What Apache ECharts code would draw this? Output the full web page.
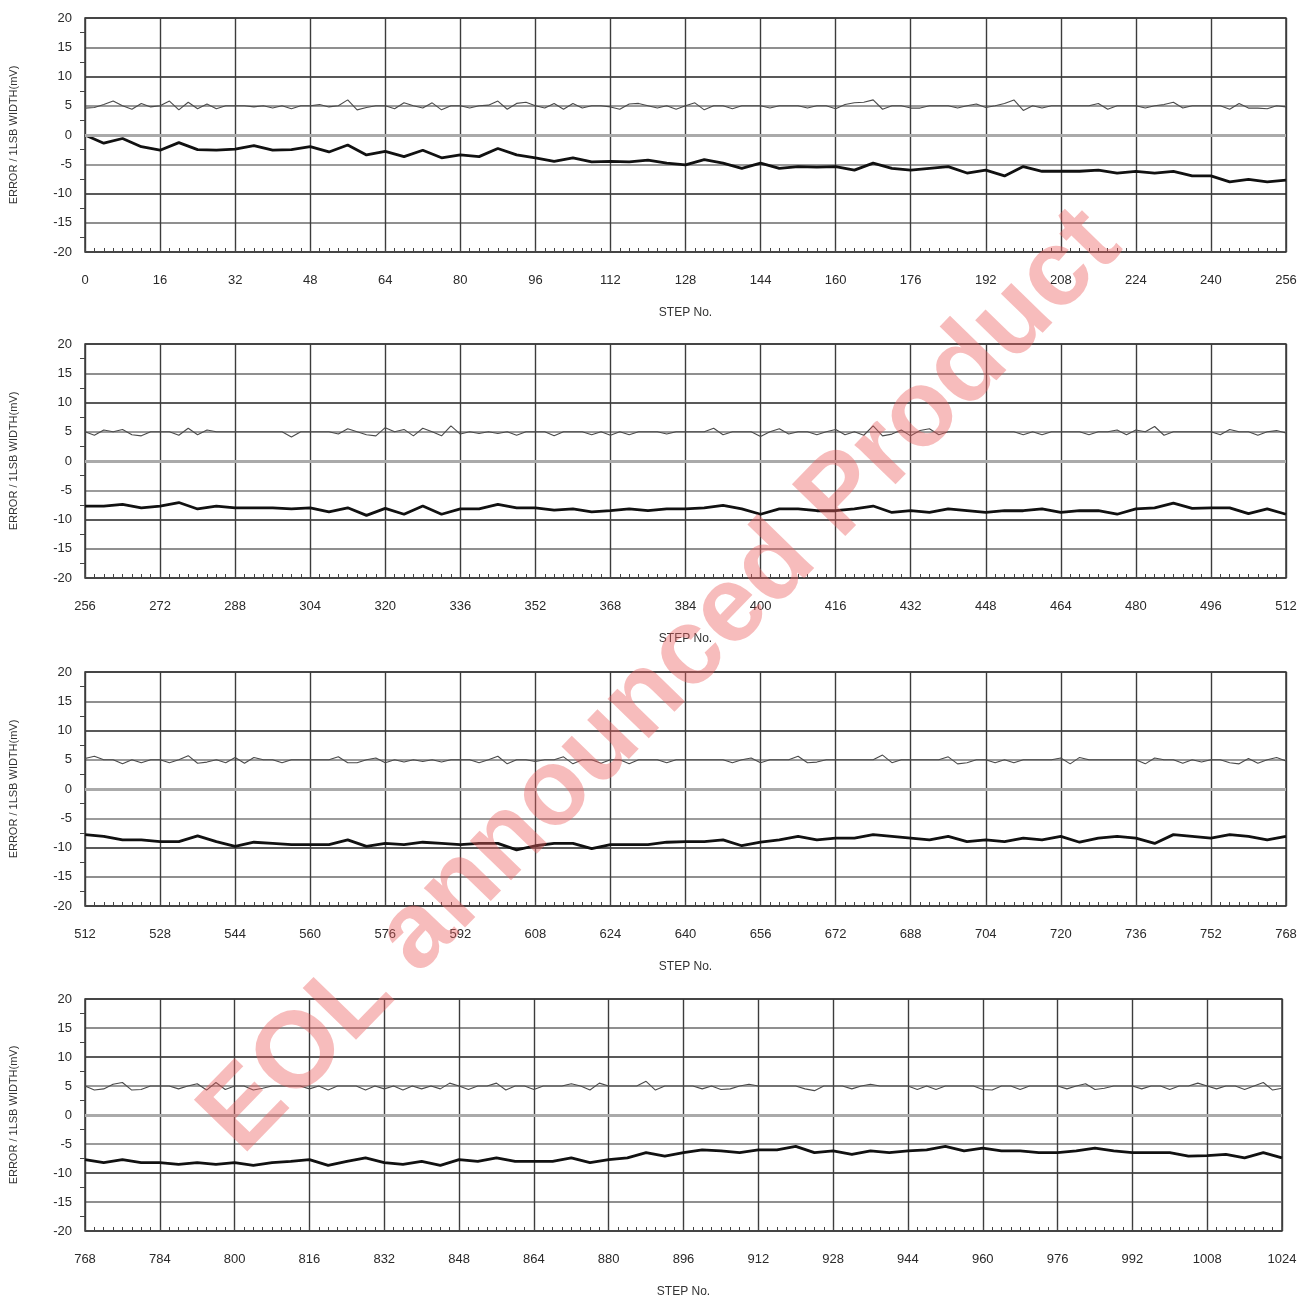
<!DOCTYPE html>
<html>
<head>
<meta charset="utf-8">
<title>Error / 1LSB width vs step</title>
<script src="https://cdn.jsdelivr.net/npm/echarts@6/dist/echarts.min.js"></script>
<style>
  html, body { margin: 0; padding: 0; background: #fff; }
  #chart { width: 1303px; height: 1299px; }
</style>
</head>
<body>
<div id="chart"></div>
<script>
// panel x ranges (STEP No.)
var panelStarts = [0, 256, 512, 768];
var panelSpan = 256;

// thin trace (around +5), read every 2 steps
var thinStep = 2;
var thin1 = [
  4.6,4.7,5.2,5.8,5.0,4.4,5.4,4.8,5.0,5.8,4.3,5.6,4.5,5.3,4.5,5.0,
  5.0,5.0,4.8,5.0,4.6,5.0,4.5,5.0,5.0,5.2,4.8,5.0,6.0,4.3,4.7,5.0,
  5.0,4.5,5.5,5.0,4.6,5.5,4.3,5.0,5.0,4.6,5.0,5.1,5.8,4.4,5.4,5.6,
  5.0,4.6,5.4,4.4,5.4,4.6,5.0,5.0,4.8,4.4,5.3,5.4,5.0,4.6,5.0,4.4,
  5.0,5.5,4.3,5.0,5.0,4.5,5.0,5.0,5.0,4.6,5.0,5.0,5.0,4.6,5.0,5.0,
  4.5,5.2,5.5,5.6,6.0,4.4,5.0,5.0,4.6,4.6,5.0,5.0,5.0,4.6,5.0,5.3,
  4.7,5.0,5.4,6.0,4.2,5.0,4.6,5.0,5.0,5.0,5.0,5.0,5.4,4.4,5.0,5.0,
  5.0,4.6,5.0,5.2,5.6,4.6,5.0,5.0,5.0,5.0,4.4,5.4,4.6,4.6,4.5,5.0,
  4.8
];
var thin2 = [
  5.0,4.4,5.3,5.0,5.4,4.5,4.3,5.0,5.0,5.0,4.4,5.6,4.5,5.3,5.0,5.0,
  5.0,5.0,5.0,5.0,5.0,5.0,4.1,5.0,5.0,5.0,5.0,4.6,5.5,5.0,4.5,4.3,
  5.7,5.0,5.4,4.3,5.6,5.0,4.3,6.0,4.6,5.0,4.7,5.0,4.7,5.0,4.4,5.0,
  5.0,5.0,4.3,5.0,5.0,5.0,4.5,5.0,4.4,5.0,4.5,5.0,5.0,5.0,4.6,5.0,
  5.0,5.0,5.0,5.6,4.5,5.0,5.0,5.0,4.2,5.0,5.5,4.6,5.0,5.0,4.5,5.0,
  5.4,4.5,5.0,4.4,6.0,4.3,4.6,5.3,4.3,5.2,5.5,4.5,5.0,5.0,5.0,5.0,
  5.0,5.0,5.0,5.0,4.5,5.0,4.5,5.0,5.0,5.0,5.0,4.5,5.0,5.0,5.3,4.5,
  5.3,5.0,5.9,4.4,5.0,5.0,5.0,5.0,5.0,4.5,5.4,5.0,5.0,4.4,5.0,5.2,
  4.8
];
var thin3 = [
  5.2,5.6,5.0,5.0,4.3,5.0,4.5,5.0,5.0,4.5,5.0,5.7,4.4,4.6,5.0,4.5,
  5.4,4.4,5.4,5.0,5.0,4.5,5.0,5.0,5.0,5.0,5.0,5.5,4.5,4.5,5.0,5.3,
  4.5,5.0,4.6,5.0,4.7,5.0,4.6,5.0,5.0,5.0,4.5,5.0,5.6,4.3,5.0,5.0,
  4.7,5.0,5.0,5.5,4.3,5.0,5.0,4.4,5.0,5.0,4.3,5.0,5.0,5.0,4.5,5.0,
  5.0,5.0,5.0,5.0,5.0,4.5,5.0,5.3,4.5,5.0,5.0,5.0,5.6,4.5,4.6,5.0,
  5.0,5.0,5.0,5.0,5.0,5.8,4.5,5.0,5.0,5.0,5.0,5.0,5.5,4.3,4.5,5.0,
  5.0,4.5,5.0,4.5,5.0,5.0,5.0,5.0,5.3,4.3,5.4,5.0,5.0,5.0,5.0,5.0,
  5.0,4.3,5.3,5.0,5.0,4.4,5.0,4.6,5.0,5.0,4.5,4.3,5.2,4.4,5.0,5.4,
  4.8
];
var thin4 = [
  5.0,4.3,4.5,5.3,5.6,4.3,4.4,5.0,5.0,5.0,4.5,5.0,5.4,4.3,5.6,4.4,
  5.0,5.0,4.3,4.6,5.0,5.0,5.0,5.0,4.5,5.0,4.3,5.0,5.0,5.0,4.3,5.0,
  4.5,5.0,4.3,5.0,4.5,5.0,4.5,5.5,5.0,4.4,5.0,5.0,5.5,4.3,5.0,5.0,
  4.4,5.0,5.0,5.0,5.4,5.0,4.3,5.5,5.0,5.0,5.0,5.0,5.8,4.3,5.0,5.0,
  5.0,5.0,4.5,5.0,4.4,4.5,5.0,5.3,5.0,5.0,5.0,5.0,5.0,4.5,4.2,5.0,
  5.0,5.0,4.5,5.0,5.3,5.0,5.0,5.0,5.0,4.4,5.0,4.4,5.0,5.0,5.0,5.0,
  4.4,4.3,5.0,5.0,4.4,5.0,5.0,5.0,5.0,4.5,5.0,5.4,4.4,4.6,5.0,5.0,
  5.0,4.5,5.0,5.0,4.4,5.0,5.0,5.5,5.0,4.5,5.0,5.0,4.4,5.0,5.6,4.3,
  4.6
];

// thick trace (cumulative error), read every 4 steps
var thickStep = 4;
var thick1 = [
  0,-1.4,-0.6,-2.0,-2.6,-1.3,-2.5,-2.6,-2.4,-1.8,-2.6,-2.5,-2.0,-2.9,-1.7,-3.4,
  -2.8,-3.7,-2.6,-3.9,-3.4,-3.7,-2.3,-3.4,-3.9,-4.5,-3.9,-4.6,-4.5,-4.6,-4.3,-4.8,
  -5.1,-4.2,-4.8,-5.7,-4.8,-5.7,-5.4,-5.5,-5.4,-6.0,-4.8,-5.7,-6.0,-5.7,-5.4,-6.5,
  -6.0,-7.0,-5.4,-6.2,-6.2,-6.2,-6.0,-6.5,-6.2,-6.5,-6.2,-7.0,-7.0,-8.0,-7.6,-8.0,
  -7.7
];
var thick2 = [
  -7.7,-7.7,-7.4,-8.0,-7.7,-7.1,-8.2,-7.7,-8.0,-8.0,-8.0,-8.2,-8.0,-8.7,-8.0,-9.3,
  -8.1,-9.1,-7.7,-9.1,-8.2,-8.2,-7.4,-8.0,-8.0,-8.4,-8.2,-8.7,-8.5,-8.2,-8.5,-8.2,
  -8.2,-8.0,-7.6,-8.2,-9.1,-8.2,-8.2,-8.5,-8.5,-8.2,-7.7,-8.8,-8.5,-8.8,-8.2,-8.5,
  -8.8,-8.5,-8.5,-8.2,-8.8,-8.5,-8.5,-9.1,-8.2,-8.0,-7.2,-8.1,-8.0,-8.0,-9.0,-8.2,
  -9.1
];
var thick3 = [
  -7.8,-8.1,-8.7,-8.7,-9.0,-9.0,-8.0,-9.0,-9.8,-9.1,-9.3,-9.5,-9.5,-9.5,-8.7,-9.8,
  -9.3,-9.5,-9.1,-9.3,-9.5,-9.3,-9.3,-10.4,-9.7,-9.3,-9.3,-10.2,-9.5,-9.5,-9.5,-9.1,
  -9.0,-9.0,-8.7,-9.7,-9.1,-8.7,-8.1,-8.7,-8.4,-8.4,-7.8,-8.1,-8.4,-8.7,-8.1,-9.0,
  -8.7,-9.0,-8.4,-8.7,-8.1,-9.1,-8.4,-8.1,-8.4,-9.3,-7.8,-8.1,-8.4,-7.8,-8.1,-8.7,
  -8.1
];
var thick4 = [
  -7.7,-8.2,-7.7,-8.2,-8.2,-8.5,-8.2,-8.5,-8.2,-8.7,-8.2,-8.0,-7.7,-8.7,-8.0,-7.4,
  -8.2,-8.5,-8.0,-8.7,-7.7,-8.0,-7.4,-8.0,-8.0,-8.0,-7.4,-8.2,-7.7,-7.4,-6.5,-7.1,
  -6.5,-6.0,-6.2,-6.5,-6.0,-6.0,-5.4,-6.5,-6.2,-6.8,-6.2,-6.5,-6.2,-6.0,-5.4,-6.2,
  -5.7,-6.2,-6.2,-6.5,-6.5,-6.2,-5.7,-6.2,-6.5,-6.5,-6.5,-7.1,-7.0,-6.8,-7.4,-6.5,
  -7.4
];

var thinData = [thin1, thin2, thin3, thin4];
var thickData = [thick1, thick2, thick3, thick4];

var yMin = -20, yMax = 20, yInterval = 5;
var xInterval = 16;

var yName = 'ERROR / 1LSB WIDTH(mV)';
var xName = 'STEP No.';
var watermark = 'EOL announced Product';

// layout of the four panels (px)
var gridTops = [18, 344, 672, 999];
var gridWidths = [1201, 1201, 1201, 1197];
var gridLeft = 85;
var gridHeight = 234;

var labelFont = '"Liberation Sans", Arial, sans-serif';

var toPairs = function (vals, start, step) {
    return vals.map(function (v, i) { return [start + i * step, v]; });
};

var chartDom = document.getElementById('chart');
var myChart = echarts.init(chartDom, null, { renderer: 'canvas' });

var grids = [], xAxes = [], yAxes = [], series = [];

for (var p = 0; p < 4; p++) {
    grids.push({
        left: gridLeft,
        top: gridTops[p],
        width: gridWidths[p],
        height: gridHeight,
        show: true,
        borderColor: '#3a3a3a',
        borderWidth: 1.5,
        backgroundColor: '#fff'
    });

    xAxes.push({
        type: 'value',
        gridIndex: p,
        min: panelStarts[p],
        max: panelStarts[p] + panelSpan,
        interval: xInterval,
        name: xName,
        nameLocation: 'middle',
        nameGap: 55,
        nameTextStyle: { color: '#333', fontSize: 12, fontFamily: labelFont },
        axisLine: { show: false, onZero: false },
        axisTick: { show: true, inside: true, length: 4, lineStyle: { color: '#444' } },
        minorTick: { show: true, splitNumber: 8, length: 4, lineStyle: { color: '#444' } },
        axisLabel: {
            margin: 22, color: '#2a2a2a', fontSize: 13, fontFamily: labelFont,
            formatter: function (v) { return String(v); }
        },
        splitLine: { show: true, lineStyle: { color: '#3c3c3c', width: 1.4 } }
    });

    yAxes.push({
        type: 'value',
        gridIndex: p,
        min: yMin,
        max: yMax,
        interval: yInterval,
        name: yName,
        nameLocation: 'middle',
        nameGap: 66,
        nameRotate: 90,
        nameTextStyle: { color: '#333', fontSize: 11, fontFamily: labelFont },
        axisLine: { show: false, onZero: false },
        axisTick: { show: false },
        minorTick: { show: true, splitNumber: 2, length: 5, lineStyle: { color: '#444' } },
        axisLabel: { margin: 13, color: '#2a2a2a', fontSize: 13, fontFamily: labelFont },
        splitLine: {
            show: true,
            lineStyle: {
                color: ['#3a3a3a', '#6a6a6a', '#222', '#7a7a7a', '#aaa', '#7a7a7a', '#222', '#6a6a6a', '#3a3a3a'],
                width: 1.6
            }
        }
    });

    series.push({
        name: 'DNL ' + p,
        type: 'line',
        xAxisIndex: p,
        yAxisIndex: p,
        showSymbol: false,
        silent: true,
        animation: false,
        data: toPairs(thinData[p], panelStarts[p], thinStep),
        lineStyle: { color: '#4a4a4a', width: 1.1 },
        markLine: {
            silent: true,
            symbol: 'none',
            label: { show: false },
            animation: false,
            data: [{ yAxis: 0, lineStyle: { color: '#aaa', width: 3, type: 'solid' } }]
        },
        z: 3
    });

    series.push({
        name: 'INL ' + p,
        type: 'line',
        xAxisIndex: p,
        yAxisIndex: p,
        showSymbol: false,
        silent: true,
        animation: false,
        data: toPairs(thickData[p], panelStarts[p], thickStep),
        lineStyle: { color: '#111', width: 2.8 },
        z: 4
    });
}

var option = {
    backgroundColor: '#fff',
    animation: false,
    grid: grids,
    xAxis: xAxes,
    yAxis: yAxes,
    series: series,
    graphic: [{
        type: 'text',
        x: 662,
        y: 682,
        rotation: 0.8,
        z: 100,
        silent: true,
        style: {
            text: watermark,
            fill: 'rgba(236, 96, 96, 0.42)',
            font: 'bold 108px "Liberation Sans", Arial, sans-serif',
            textAlign: 'center',
            textVerticalAlign: 'middle'
        }
    }]
};

option && myChart.setOption(option);
</script>
</body>
</html>
